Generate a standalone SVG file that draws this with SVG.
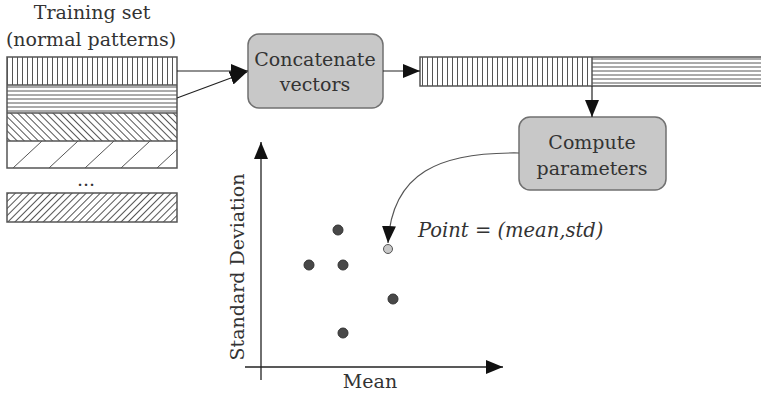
<svg xmlns="http://www.w3.org/2000/svg" width="761" height="396" viewBox="0 0 761 396">
<style>
.t{font-family:"DejaVu Serif","Liberation Serif",serif;font-size:19px;fill:#333;}
.ti{font-family:"DejaVu Serif","Liberation Serif",serif;font-size:19.5px;font-style:italic;fill:#333;}
.box{fill:#c8c8c8;stroke:#707070;stroke-width:1.5;}
.frame{fill:none;stroke:#555;stroke-width:1.5;}
.ln{stroke:#222;stroke-width:1.2;fill:none;}
.ax{stroke:#222;stroke-width:1.3;fill:none;}
.pl{stroke:#555;stroke-width:1;}
.dot{fill:#484848;stroke:#333;stroke-width:1;}
</style>
<defs>
<marker id="ah" markerUnits="userSpaceOnUse" markerWidth="17" markerHeight="14" refX="17" refY="7" orient="auto">
<path d="M0,0 L17,7 L0,14 z" fill="#111"/>
</marker>
<pattern id="vs" patternUnits="userSpaceOnUse" width="5" height="10">
<line x1="2.5" y1="0" x2="2.5" y2="10" class="pl"/>
</pattern>
<pattern id="hs" patternUnits="userSpaceOnUse" width="10" height="4" y="1">
<line x1="0" y1="2" x2="10" y2="2" class="pl"/>
</pattern>
<pattern id="bd" patternUnits="userSpaceOnUse" width="5" height="5" patternTransform="rotate(45)">
<line x1="0" y1="2.5" x2="5" y2="2.5" class="pl"/>
</pattern>
<pattern id="fd" patternUnits="userSpaceOnUse" width="5" height="5" patternTransform="rotate(-45)">
<line x1="0" y1="2.5" x2="5" y2="2.5" class="pl"/>
</pattern>
<clipPath id="sp"><rect x="7" y="141" width="170" height="27"/></clipPath>
</defs>
<rect width="761" height="396" fill="#fff"/>

<g id="training-set">
<text class="t" x="92" y="19" text-anchor="middle">Training set</text>
<text class="t" x="91" y="46" text-anchor="middle">(normal patterns)</text>
<rect x="7" y="57" width="170" height="28" fill="url(#vs)"/>
<rect x="7" y="85" width="170" height="28" fill="url(#hs)"/>
<rect x="7" y="113" width="170" height="28" fill="url(#bd)"/>
<g clip-path="url(#sp)" class="pl">
<line x1="13" y1="168" x2="42" y2="141"/>
<line x1="49" y1="168" x2="78" y2="141"/>
<line x1="85" y1="168" x2="114" y2="141"/>
<line x1="121" y1="168" x2="150" y2="141"/>
<line x1="157" y1="168" x2="186" y2="141"/>
</g>
<rect x="7" y="57" width="170" height="111" class="frame"/>
<line x1="7" y1="85" x2="177" y2="85" class="frame"/>
<line x1="7" y1="113" x2="177" y2="113" class="frame"/>
<line x1="7" y1="141" x2="177" y2="141" class="frame"/>
<text class="t" x="86" y="186" text-anchor="middle">...</text>
<rect x="7" y="193" width="170" height="29" class="frame" style="fill:url(#fd)"/>
</g>

<g id="concatenate">
<rect x="248" y="34" width="135" height="74" rx="11" class="box"/>
<text class="t" x="315" y="66" text-anchor="middle">Concatenate</text>
<text class="t" x="315" y="91" text-anchor="middle">vectors</text>
</g>

<g id="vector">
<rect x="420" y="57" width="172" height="29" fill="url(#vs)"/>
<rect x="592" y="57" width="170" height="29" fill="url(#hs)"/>
<rect x="420" y="57" width="345" height="29" class="frame"/>
<line x1="592" y1="57" x2="592" y2="86" class="frame"/>
</g>

<g id="compute">
<rect x="519" y="117" width="147" height="73" rx="11" class="box"/>
<text class="t" x="592" y="149" text-anchor="middle">Compute</text>
<text class="t" x="592" y="175" text-anchor="middle">parameters</text>
</g>

<g id="plot">
<text class="t" x="0" y="0" text-anchor="middle" transform="translate(244,267) rotate(-90)">Standard Deviation</text>
<text class="t" x="370" y="388" text-anchor="middle">Mean</text>
<text class="ti" x="418" y="237">Point = (mean,std)</text>
<circle cx="338" cy="230" r="5" class="dot"/>
<circle cx="309" cy="265" r="5" class="dot"/>
<circle cx="343" cy="265" r="5" class="dot"/>
<circle cx="393" cy="299" r="5" class="dot"/>
<circle cx="343" cy="333" r="5" class="dot"/>
<circle cx="388" cy="249" r="4.5" fill="#c8c8c8" stroke="#555" stroke-width="1"/>
</g>

<g id="connectors">
<line x1="177" y1="71" x2="248" y2="71" class="ln" marker-end="url(#ah)"/>
<line x1="177" y1="98" x2="247" y2="72" class="ln" marker-end="url(#ah)"/>
<line x1="383" y1="71" x2="420" y2="71" class="ln" marker-end="url(#ah)"/>
<line x1="592" y1="86" x2="592" y2="117" class="ln" marker-end="url(#ah)"/>
<path d="M519,153 C440,152 392,172 388,243" class="ln" style="stroke:#555" marker-end="url(#ah)"/>
<line x1="261" y1="380" x2="261" y2="142" class="ax" marker-end="url(#ah)"/>
<line x1="245" y1="367" x2="503" y2="367" class="ax" marker-end="url(#ah)"/>
</g>
</svg>
